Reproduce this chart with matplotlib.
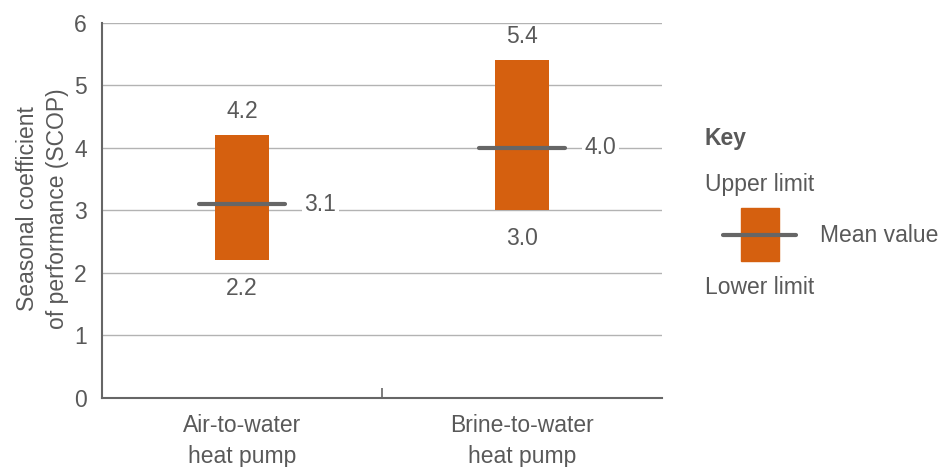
import numpy as np
import matplotlib.pyplot as plt
from matplotlib.patches import Rectangle
from matplotlib.lines import Line2D

plt.rcParams['font.family'] = ['Liberation Sans', 'DejaVu Sans']

categories = ["Air-to-water\nheat pump", "Brine-to-water\nheat pump"]
lower = [2.2, 3.0]
upper = [4.2, 5.4]
mean = [3.1, 4.0]

orange = '#d5600f'
grey = '#666666'
text_c = '#595959'
fs = 16.5

fig = plt.figure(figsize=(9.41, 4.67), dpi=100)
ax = fig.add_axes([0.1084, 0.1478, 0.595, 0.803])

x = np.arange(len(categories))
ax.bar(x, np.array(upper) - np.array(lower), bottom=lower, width=0.19,
       color=orange, zorder=3)
for xi, lo, hi, m in zip(x, lower, upper, mean):
    ax.plot([xi - 0.155, xi + 0.155], [m, m], color=grey, lw=3,
            solid_capstyle='round', zorder=4)
    ax.annotate("%.1f" % hi, (xi, hi), xytext=(0, 17.5), textcoords='offset points',
                ha='center', va='center', fontsize=fs, color=text_c)
    ax.annotate("%.1f" % lo, (xi, lo), xytext=(0, -20), textcoords='offset points',
                ha='center', va='center', fontsize=fs, color=text_c)
    ax.text(xi + 0.28, m, "%.1f" % m, ha='center', va='center', fontsize=fs,
            color=text_c, zorder=5,
            bbox=dict(facecolor='white', edgecolor='none', pad=2))

ax.set_xlim(-0.5, 1.5)
ax.set_ylim(0, 6)
ax.set_yticks(range(0, 7))
ax.yaxis.grid(True, color='#b3b3b3', lw=1)
ax.set_axisbelow(True)
ax.set_xticks([0.5])
ax.set_xticklabels([""])
ax.tick_params(axis='x', direction='in', length=7, color=grey, width=1.2)
ax.tick_params(axis='y', length=0, pad=11, labelsize=fs, labelcolor=text_c)
for s in ['top', 'right']:
    ax.spines[s].set_visible(False)
for s in ['left', 'bottom']:
    ax.spines[s].set_color(grey)
    ax.spines[s].set_linewidth(1.5)
for xi, c in zip(x, categories):
    ax.text(xi, -0.26, c, ha='center', va='top', fontsize=fs, color=text_c,
            linespacing=1.45)

fig.text(0.045, 0.553, "Seasonal coefficient\nof performance (SCOP)", rotation=90,
         ha='center', va='center', fontsize=fs, color=text_c, linespacing=1.4)

# key
kax = fig.add_axes([0, 0, 1, 1])
kax.set_xlim(0, 941)
kax.set_ylim(467, 0)
kax.axis('off')
kax.text(705, 138, "Key", fontsize=fs, fontweight='bold', color=text_c, va='center')
kax.text(705, 185, "Upper limit", fontsize=fs, color=text_c, va='center')
kax.text(705, 287, "Lower limit", fontsize=fs, color=text_c, va='center')
kax.text(820, 236, "Mean value", fontsize=fs, color=text_c, va='center')
kax.add_patch(Rectangle((741, 208), 38, 53, color=orange))
kax.add_line(Line2D([723, 796], [235, 235], color=grey, lw=3, solid_capstyle='round'))

plt.savefig("out.png", dpi=100)
